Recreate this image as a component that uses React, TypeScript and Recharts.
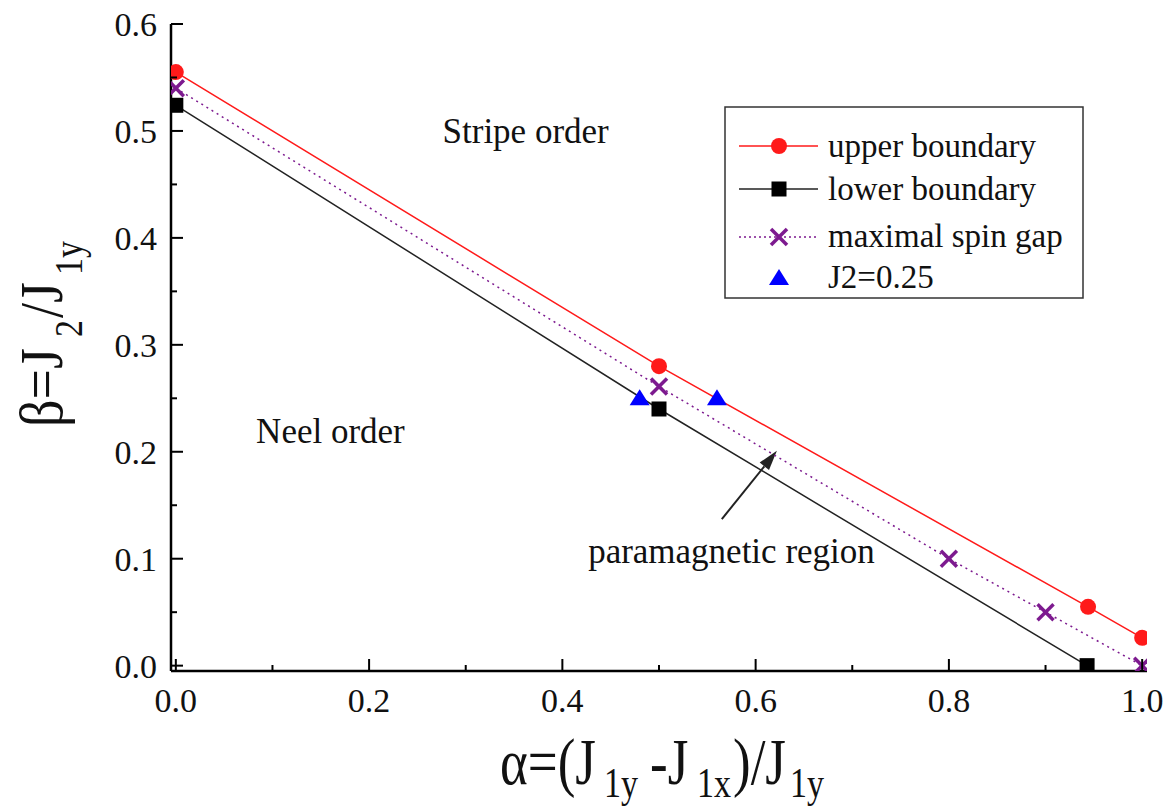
import React from 'react';
import { ComposedChart, Line, XAxis, YAxis, ReferenceDot, ReferenceLine } from 'recharts';

// ---- data ----
const upperX = [0, 0.5, 0.944, 1.0];
const upperY = [0.555, 0.28, 0.055, 0.026];
const lowerX = [0, 0.5, 0.943];
const lowerY = [0.524, 0.24, 0.0];
const gapX = [0, 0.5, 0.8, 0.9, 1.0];
const gapY = [0.54, 0.261, 0.1, 0.05, 0.0];
const j2X = [0.48, 0.56];
const j2Y = [0.25, 0.25];

const seriesNames = ['upper boundary', 'lower boundary', 'maximal spin gap', 'J2=0.25'];

const xTicks = [0, 0.1, 0.2, 0.3, 0.4, 0.5, 0.6, 0.7, 0.8, 0.9, 1.0];
const xMajor = [0, 0.2, 0.4, 0.6, 0.8, 1.0];
const yTicks = [0, 0.05, 0.1, 0.15, 0.2, 0.25, 0.3, 0.35, 0.4, 0.45, 0.5, 0.55, 0.6];
const yMajor = [0, 0.1, 0.2, 0.3, 0.4, 0.5, 0.6];

const annotationText = ['Stripe order', 'Neel order', 'paramagnetic region'];
const annotationX = [0.362, 0.16, 0.575];
const annotationY = [0.489, 0.208, 0.096];

const arrowTail = { x: 0.565, y: 0.137 };
const arrowTip = { x: 0.622, y: 0.201 };

const xDomain = [-0.005, 1.005];
const yDomain = [-0.005, 0.6];

const toPoints = (xs: number[], ys: number[]) => xs.map((x, i) => ({ x, y: ys[i] }));
const upperData = toPoints(upperX, upperY);
const lowerData = toPoints(lowerX, lowerY);
const gapData = toPoints(gapX, gapY);
const j2Data = toPoints(j2X, j2Y);

// ---- styles ----
const FONT = "'Liberation Serif', 'Times New Roman', serif";
const RED = '#ff1a1a';
const PURPLE = '#7d1a8f';
const BLUE = '#0000ff';
const TICK_FS = 34;
const MAJOR = 12;
const MINOR = 6;

const isIn = (arr: number[], v: number) => arr.some((a) => Math.abs(a - v) < 1e-6);

const T = (props: any) => <text fontFamily={FONT} style={{ fontFamily: FONT }} fill="#111" {...props} />;

const BottomTick = (p: any) => {
  const v = p.payload.value;
  const major = isIn(xMajor, v);
  return (
    <g>
      <line x1={p.x} x2={p.x} y1={p.y} y2={p.y - (major ? MAJOR : MINOR)} stroke="#000" strokeWidth={2} />
      {major && (
        <T x={p.x} y={p.y + 41} textAnchor="middle" fontSize={TICK_FS}>
          {v.toFixed(1)}
        </T>
      )}
    </g>
  );
};
const TopTick = (p: any) => {
  const v = p.payload.value;
  const major = isIn(xMajor, v);
  return <line x1={p.x} x2={p.x} y1={p.y} y2={p.y + (major ? MAJOR : MINOR)} stroke="#000" strokeWidth={2} />;
};
const LeftTick = (p: any) => {
  const v = p.payload.value;
  const major = isIn(yMajor, v);
  return (
    <g>
      <line x1={p.x} x2={p.x + (major ? MAJOR : MINOR)} y1={p.y} y2={p.y} stroke="#000" strokeWidth={2} />
      {major && (
        <T x={p.x - 14} y={p.y + 12} textAnchor="end" fontSize={TICK_FS}>
          {v.toFixed(1)}
        </T>
      )}
    </g>
  );
};
const RightTick = (p: any) => {
  const v = p.payload.value;
  const major = isIn(yMajor, v);
  return <line x1={p.x} x2={p.x - (major ? MAJOR : MINOR)} y1={p.y} y2={p.y} stroke="#000" strokeWidth={2} />;
};

// ---- markers ----
const circleM = (cx: number, cy: number, key?: any) => <circle key={key} cx={cx} cy={cy} r={8} fill={RED} />;
const squareM = (cx: number, cy: number, key?: any) => (
  <rect key={key} x={cx - 7.5} y={cy - 7.5} width={15} height={15} fill="#000" />
);
const crossM = (cx: number, cy: number, key?: any) => (
  <g key={key}>
    <line x1={cx - 8} y1={cy - 8} x2={cx + 8} y2={cy + 8} stroke={PURPLE} strokeWidth={3.5} />
    <line x1={cx - 8} y1={cy + 8} x2={cx + 8} y2={cy - 8} stroke={PURPLE} strokeWidth={3.5} />
  </g>
);
const triM = (cx: number, cy: number, key?: any) => (
  <polygon key={key} points={`${cx},${cy - 9} ${cx + 10},${cy + 7} ${cx - 10},${cy + 7}`} fill={BLUE} />
);

const dotOf = (fn: any) => (p: any) => {
  if (p.cx == null || p.cy == null) return <g key={p.index} />;
  return fn(p.cx, p.cy, p.index);
};

const Arrow = (p: any) => {
  const { x1, y1, x2, y2 } = p;
  const dx = x2 - x1;
  const dy = y2 - y1;
  const len = Math.sqrt(dx * dx + dy * dy) || 1;
  const ux = dx / len;
  const uy = dy / len;
  const hl = 20;
  const hw = 6;
  const bx = x2 - ux * hl;
  const by = y2 - uy * hl;
  return (
    <g>
      <line x1={x1} y1={y1} x2={bx} y2={by} stroke="#222" strokeWidth={2} />
      <polygon
        points={`${x2},${y2} ${bx - uy * hw},${by + ux * hw} ${bx + uy * hw},${by - ux * hw}`}
        fill="#222"
      />
    </g>
  );
};

const makeLabel = (text: string) => (p: any) => (
  <T x={p.cx} y={p.cy} textAnchor="middle" fontSize={35}>
    {text}
  </T>
);

const legendMarkers = [circleM, squareM, crossM, triM];
const legendLines = [
  { stroke: RED, dash: undefined as string | undefined },
  { stroke: '#222', dash: undefined as string | undefined },
  { stroke: PURPLE, dash: '2 3' },
  null,
];
const legendRowText = [157, 200, 247, 288];
const legendRowMark = [146, 189, 237, 278];

export default function App() {
  return (
    <div style={{ position: 'absolute', left: 0, top: 0, width: 1166, height: 809, background: '#fff', fontFamily: FONT }}>
      <ComposedChart
        width={1166}
        height={809}
        margin={{ top: 24, right: 19, bottom: 98, left: 0 }}
        style={{ fontFamily: FONT }}
      >
        <XAxis
          dataKey="x"
          type="number"
          domain={xDomain}
          ticks={xTicks}
          interval={0}
          allowDataOverflow
          tick={BottomTick}
          tickLine={false}
          tickSize={0}
          tickMargin={0}
          height={40}
          axisLine={{ stroke: '#000', strokeWidth: 2.5 }}
        />
        <XAxis
          xAxisId="top"
          orientation="top"
          dataKey="x"
          type="number"
          domain={xDomain}
          ticks={xTicks}
          interval={0}
          allowDataOverflow
          tick={TopTick}
          tickLine={false}
          tickSize={0}
          tickMargin={0}
          height={0}
          axisLine={{ stroke: '#000', strokeWidth: 2.5 }}
        />
        <YAxis
          type="number"
          domain={yDomain}
          ticks={yTicks}
          interval={0}
          allowDataOverflow
          tick={LeftTick}
          tickLine={false}
          tickSize={0}
          tickMargin={0}
          width={171}
          axisLine={{ stroke: '#000', strokeWidth: 2.5 }}
        />
        <YAxis
          yAxisId="right"
          orientation="right"
          type="number"
          domain={yDomain}
          ticks={yTicks}
          interval={0}
          allowDataOverflow
          tick={RightTick}
          tickLine={false}
          tickSize={0}
          tickMargin={0}
          width={0}
          axisLine={{ stroke: '#000', strokeWidth: 2.5 }}
        />
        <ReferenceLine segment={[arrowTail, arrowTip]} shape={Arrow} ifOverflow="visible" />
        {annotationText.map((t, i) => (
          <ReferenceDot key={t} x={annotationX[i]} y={annotationY[i]} r={0} shape={makeLabel(t)} />
        ))}
        <Line
          name={seriesNames[0]}
          data={upperData}
          dataKey="y"
          stroke={RED}
          strokeWidth={1.5}
          dot={dotOf(circleM)}
          activeDot={false}
          isAnimationActive={false}
        />
        <Line
          name={seriesNames[1]}
          data={lowerData}
          dataKey="y"
          stroke="#222"
          strokeWidth={1.5}
          dot={dotOf(squareM)}
          activeDot={false}
          isAnimationActive={false}
        />
        <Line
          name={seriesNames[2]}
          data={gapData}
          dataKey="y"
          stroke={PURPLE}
          strokeWidth={1.5}
          strokeDasharray="2 4"
          dot={dotOf(crossM)}
          activeDot={false}
          isAnimationActive={false}
        />
        <Line
          name={seriesNames[3]}
          data={j2Data}
          dataKey="y"
          stroke="none"
          dot={dotOf(triM)}
          activeDot={false}
          isAnimationActive={false}
        />
      </ComposedChart>

      <svg width={1166} height={809} style={{ position: 'absolute', left: 0, top: 0, pointerEvents: 'none' }}>
        {/* legend */}
        <rect x={725} y={107} width={358} height={191} fill="#fff" stroke="#333" strokeWidth={1.5} />
        {seriesNames.map((name, i) => {
          const ln = legendLines[i];
          return (
            <g key={name}>
              {ln && (
                <line
                  x1={739}
                  x2={818}
                  y1={legendRowMark[i]}
                  y2={legendRowMark[i]}
                  stroke={ln.stroke}
                  strokeWidth={1.5}
                  strokeDasharray={ln.dash}
                />
              )}
              {legendMarkers[i](779, legendRowMark[i])}
              <T x={828} y={legendRowText[i]} fontSize={33}>
                {name}
              </T>
            </g>
          );
        })}

        {/* x title */}
        <g transform="translate(0,784) scale(1,1.25)">
          <T x={500} y={0} fontSize={53}>α=(J</T>
          <T x={604} y={10} fontSize={34}>1y</T>
          <T x={650} y={0} fontSize={53}>-J</T>
          <T x={697} y={10} fontSize={34}>1x</T>
          <T x={733} y={0} fontSize={53}>)/J</T>
          <T x={790} y={10} fontSize={34}>1y</T>
        </g>

        {/* y title */}
        <g transform="translate(62,427) rotate(-90) scale(1,1.15)">
          <T x={0} y={0} fontSize={54}>β=J</T>
          <T x={90} y={17} fontSize={34}>2</T>
          <T x={109} y={0} fontSize={54}>/J</T>
          <T x={152} y={17} fontSize={34}>1y</T>
        </g>
      </svg>
    </div>
  );
}
